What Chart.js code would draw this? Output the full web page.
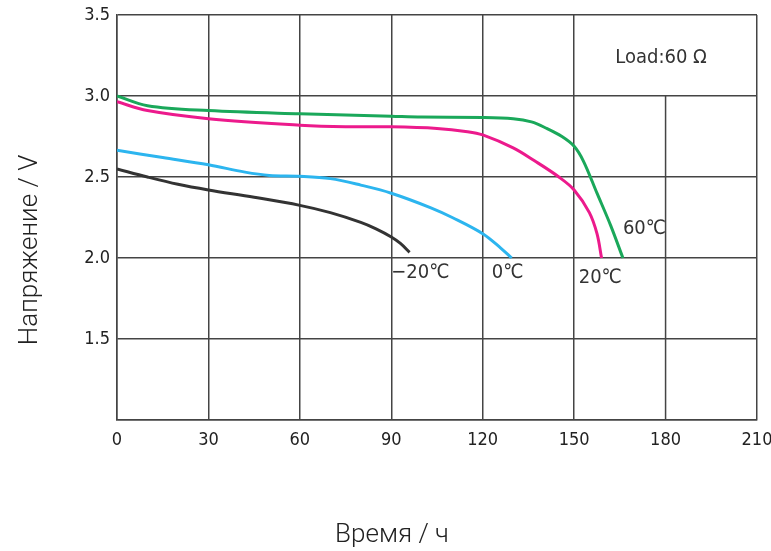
<!DOCTYPE html>
<html lang="ru">
<head>
  <meta charset="UTF-8">
  <title>Разряд при разных температурах</title>
  <script src="https://cdn.jsdelivr.net/npm/chart.js"></script>
  <style>
    body { margin: 0; background: #fff; }
    #wrap { width: 771px; height: 551px; }
  </style>
</head>
<body>
  <div id="wrap"><canvas id="dischargeChart" width="771" height="551"></canvas></div>

  <script>
    // hours / volts
    const hours60  = [0, 10, 30, 60, 90, 100, 120, 130, 136, 141, 146, 150, 153, 157.5, 162, 166];
    const volts60  = [3.00, 2.94, 2.91, 2.89, 2.875, 2.87, 2.868, 2.86, 2.84, 2.80, 2.75, 2.69, 2.60, 2.40, 2.20, 2.00];

    const hours20  = [0, 10, 30, 60, 75, 90, 105, 115, 120, 130, 137, 145, 150, 155, 157.5, 159];
    const volts20  = [2.965, 2.91, 2.86, 2.82, 2.81, 2.81, 2.80, 2.78, 2.76, 2.68, 2.60, 2.50, 2.42, 2.28, 2.15, 2.00];

    const hours0   = [0, 15, 30, 42, 50, 60, 70, 80, 90, 103, 110, 120, 126, 129.5];
    const volts0   = [2.665, 2.62, 2.575, 2.53, 2.51, 2.505, 2.49, 2.45, 2.40, 2.31, 2.25, 2.15, 2.06, 2.00];

    const hoursM20 = [0, 10, 20, 30, 45, 60, 70, 80, 85, 90, 93, 96];
    const voltsM20 = [2.55, 2.50, 2.455, 2.42, 2.375, 2.325, 2.28, 2.22, 2.18, 2.13, 2.09, 2.035];

    const curveLabels = ['60℃', '20℃', '0℃', '−20℃'];
    const labelSpots  = [[166, 2.18], [151.5, 1.88], [123, 1.91], [90, 1.91]];
    const loadNote = 'Load:60 Ω';

    const toPoints = (xs, ys) => xs.map((x, i) => ({ x: x, y: ys[i] }));

    const tickFont = { family: '"DejaVu Sans Condensed", "Liberation Sans Narrow", sans-serif', size: 18 };

    const annotations = {
      id: 'annotations',
      beforeDatasetsDraw(chart) {
        const { ctx, scales: { x, y } } = chart;
        // 180 h line stops under the load note
        ctx.save();
        ctx.strokeStyle = '#444';
        ctx.lineWidth = 1.5;
        ctx.beginPath();
        ctx.moveTo(x.getPixelForValue(180), y.getPixelForValue(3.0));
        ctx.lineTo(x.getPixelForValue(180), y.getPixelForValue(1.0));
        ctx.stroke();
        ctx.restore();
      },
      afterDraw(chart) {
        const { ctx, scales: { x, y } } = chart;
        ctx.save();
        ctx.fillStyle = '#333';
        ctx.font = '20px "DejaVu Sans Condensed", "Liberation Sans Narrow", sans-serif';
        ctx.textBaseline = 'middle';
        ctx.textAlign = 'left';
        curveLabels.forEach((txt, i) => {
          ctx.fillText(txt, x.getPixelForValue(labelSpots[i][0]), y.getPixelForValue(labelSpots[i][1]));
        });
        ctx.fillText(loadNote, x.getPixelForValue(163.5), y.getPixelForValue(3.235));

        // axis titles
        ctx.fillStyle = '#222';
        ctx.font = '300 26px Roboto, "Liberation Sans", sans-serif';
        ctx.textAlign = 'center';
        ctx.fillText('Время / ч', 392, 535);
        ctx.translate(30, 250);
        ctx.rotate(-Math.PI / 2);
        ctx.fillText('Напряжение / V', 0, 0);
        ctx.restore();
      }
    };

    new Chart(document.getElementById('dischargeChart'), {
      type: 'line',
      data: {
        datasets: [
          { label: '60℃', data: toPoints(hours60, volts60), borderColor: '#1aa85a' },
          { label: '20℃', data: toPoints(hours20, volts20), borderColor: '#ec1a8c' },
          { label: '0℃', data: toPoints(hours0, volts0), borderColor: '#2cb5ef' },
          { label: '−20℃', data: toPoints(hoursM20, voltsM20), borderColor: '#333333' }
        ]
      },
      options: {
        responsive: false,
        animation: false,
        layout: { padding: { top: 15, right: 14, left: 0, bottom: 0 } },
        elements: {
          point: { radius: 0 },
          line: { borderWidth: 3, tension: 0.35, fill: false }
        },
        plugins: { legend: { display: false }, tooltip: { enabled: false } },
        scales: {
          x: {
            type: 'linear',
            min: 0, max: 210,
            afterFit: s => { s.height = 131; s.paddingRight = 0; s.paddingLeft = 0; },
            ticks: { stepSize: 30, color: '#222', font: tickFont, padding: 10, maxRotation: 0 },
            grid: {
              drawTicks: false,
              lineWidth: 1.5,
              color: c => (c.tick && c.tick.value === 180) ? 'rgba(0,0,0,0)' : '#444'
            },
            border: { color: '#444', width: 1.5 }
          },
          y: {
            min: 1.0, max: 3.5,
            afterFit: s => { s.width = 117; s.paddingTop = 0; s.paddingBottom = 0; },
            ticks: {
              stepSize: 0.5, color: '#222', font: tickFont, padding: 7,
              callback: v => v === 1 ? '' : v.toFixed(1)
            },
            grid: { drawTicks: false, lineWidth: 1.5, color: '#444' },
            border: { color: '#444', width: 1.5 }
          }
        }
      },
      plugins: [annotations]
    });
  </script>
</body>
</html>
